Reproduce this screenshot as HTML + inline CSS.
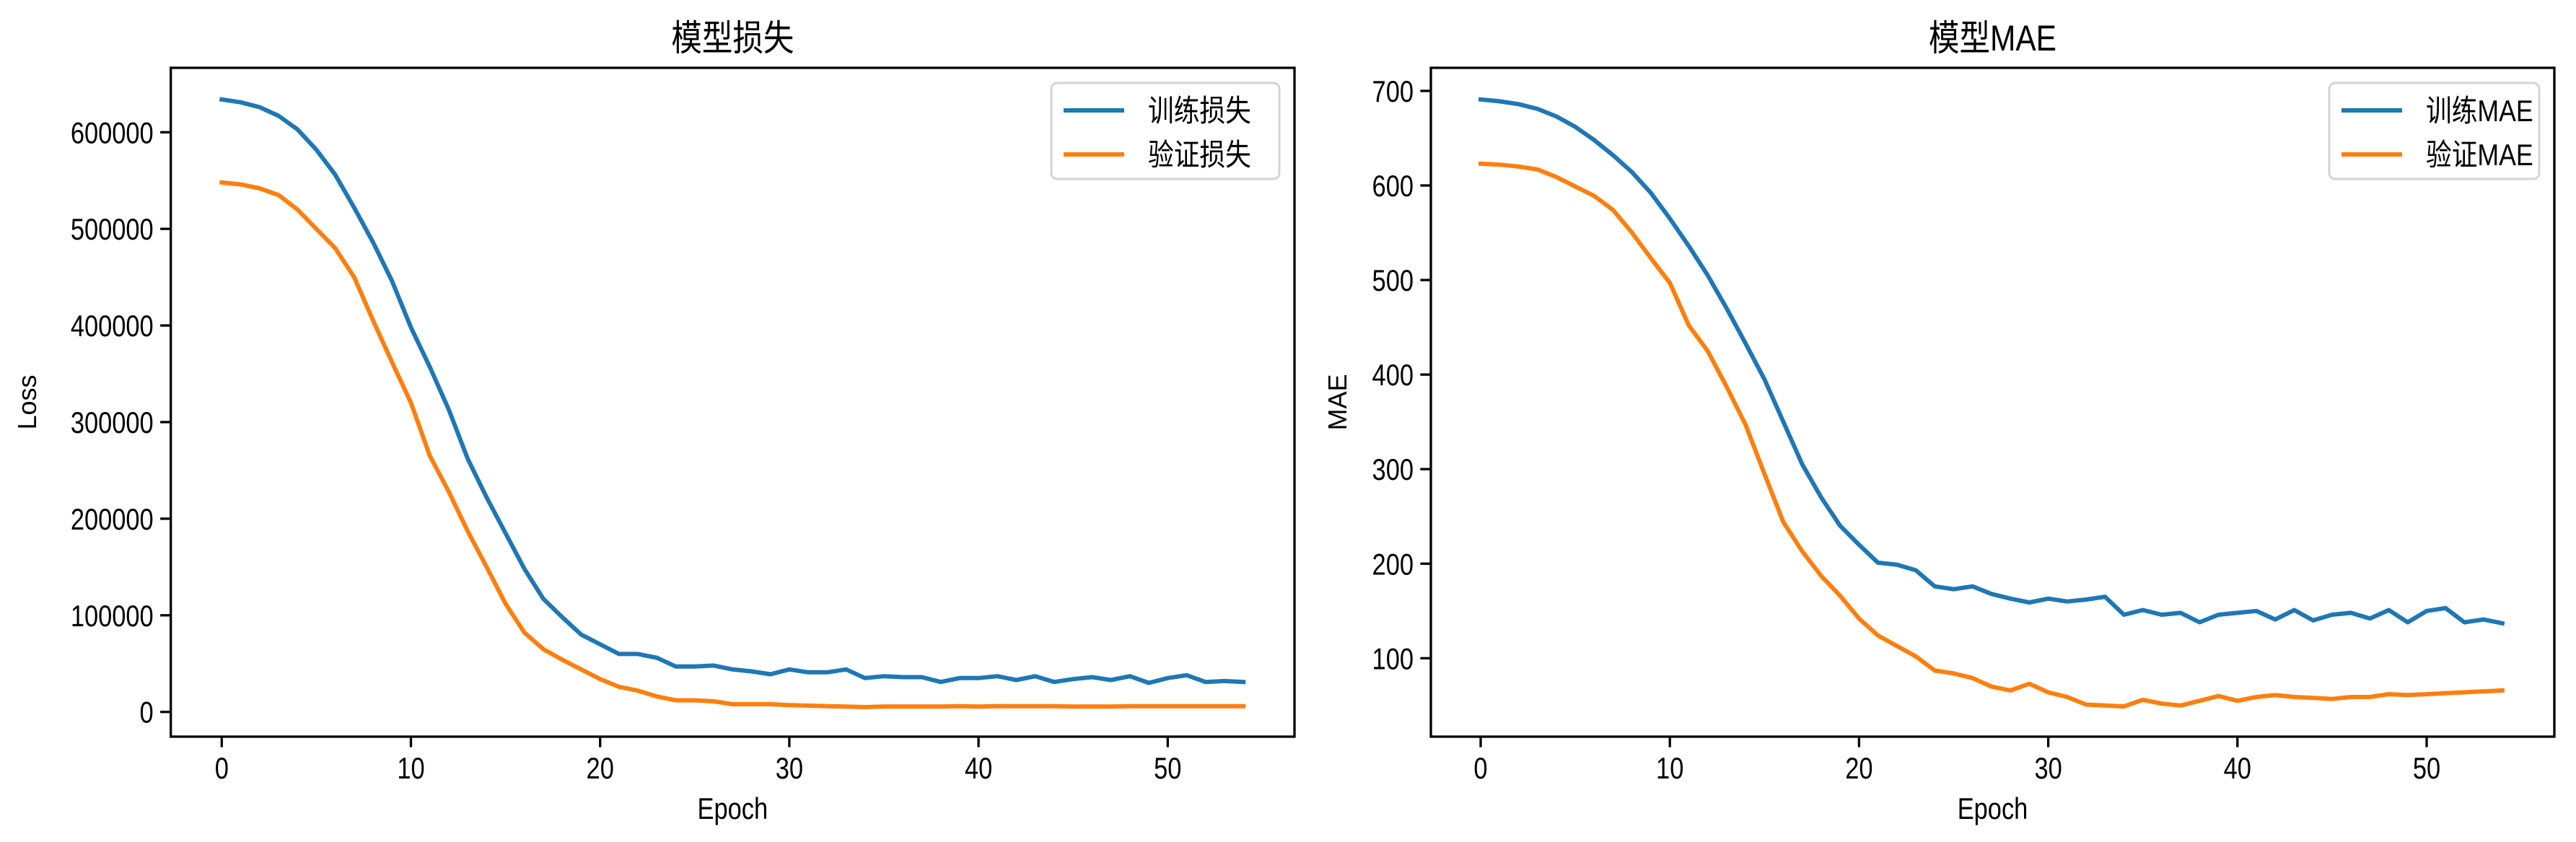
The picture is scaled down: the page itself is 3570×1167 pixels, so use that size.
<!DOCTYPE html>
<html><head><meta charset="utf-8">
<style>
html,body{margin:0;padding:0;background:#fff;}
svg{display:block;}
text{font-family:"Liberation Sans","Noto Sans CJK SC",sans-serif;fill:#000;}
.cjk{font-family:"Liberation Sans","Noto Sans CJK SC",sans-serif;}
</style></head>
<body>
<svg id="chart" xmlns="http://www.w3.org/2000/svg" width="3570" height="1167" viewBox="0 0 3570 1167"></svg>
<script>
const epochs = Array.from({length:55},(_,i)=>i);
const trainLoss = [634,631,626,617,603,582,556,522,486,446,398,357,313,262,222,185,148,117,98,80,70,60,60,56,47,47,48,44,42,39,44,41,41,44,35,37,36,36,31,35,35,37,33,37,31,34,36,33,37,30,35,38,31,32,31].map(v=>v*1000);
const valLoss = [548,546,542,535,520,500,480,450,405,362,320,265,228,187,150,112,82,65,54,44,34,26,22,16,12,12,11,8,8,8,7,6.5,6,5.5,5,5.5,5.5,5.5,5.5,6,5.5,6,6,6,6,5.5,5.5,5.5,6,6,6,6,6,6,6].map(v=>v*1000);
const trainMAE = [691,689,686,681,673,662,648,632,614,592,565,536,505,470,433,395,350,305,270,240,220,201,199,193,176,173,176,168,163,159,163,160,162,165,146,151,146,148,138,146,148,150,141,151,140,146,148,142,151,138,150,153,138,141,137];
const valMAE = [623,622,620,617,609,599,589,574,550,523,497,452,425,387,347,295,244,213,187,166,142,124,113,102,87,84,79,70,66,73,64,59,51,50,49,56,52,50,55,60,55,59,61,59,58,57,59,59,62,61,62,63,64,65,66];
const xTicks = [0,10,20,30,40,50];
const lossTicks = [0,100000,200000,300000,400000,500000,600000];
const maeTicks = [100,200,300,400,500,600,700];

const svg = document.getElementById('chart');
const NS = 'http://www.w3.org/2000/svg';
function mk(tag, attrs, parent){
  const e = document.createElementNS(NS, tag);
  for (const k in attrs) e.setAttribute(k, attrs[k]);
  (parent||svg).appendChild(e);
  return e;
}
function txt(parent, x, y, str, size, anchor, sx, cls){
  const t = mk('text',{x:0,y:0,'text-anchor':anchor,'font-size':size,transform:`translate(${x},${y}) scale(${sx},1)`},parent);
  if (cls) t.setAttribute('class', cls);
  t.textContent = str;
  return t;
}

function panel(cfg){
  const g = mk('g',{});
  
  
  const L=cfg.left, R=cfg.right, T=94, B=1021;
  const xPer = 26.22;
  const x = v => cfg.x0 + v*xPer;
  const y = v => cfg.y0 - (v - cfg.yRef)*cfg.yPer;
  const frame = mk('rect',{x:L,y:T,width:R-L,height:B-T,fill:'none',stroke:'#000','stroke-width':3.3},g);
  
  
  xTicks.forEach(t=>{
    const ln = mk('line',{x1:x(t),x2:x(t),y1:B,y2:B+14.6,stroke:'#000','stroke-width':3.3},g);
    
    
    const tx = txt(g, x(t), B+58, String(t), 42, 'middle', 0.82);
    
    
  });
  cfg.yTicks.forEach(t=>{
    const ln = mk('line',{x1:L-14.6,x2:L,y1:y(t),y2:y(t),stroke:'#000','stroke-width':3.3},g);
    
    
    const tx = txt(g, L-24, y(t)+15, String(t), 42, 'end', 0.82);
    
    
  });
  const colors=['#1f77b4','#ff7f0e'];
  cfg.series.forEach((s,i)=>{
    const d = s.map((v,k)=>(k?'L':'M')+x(epochs[k]).toFixed(1)+','+y(v).toFixed(1)).join(' ');
    const p = mk('path',{d:d,fill:'none',stroke:colors[i],'stroke-width':6,'stroke-linejoin':'round','stroke-linecap':'square'},g);
    
    
  });
  const ti = txt(g, (L+R)/2, 70, cfg.title, 50, 'middle', 0.85, 'cjk');
  
  
  const xl = txt(g, (L+R)/2, 1135, 'Epoch', 42, 'middle', 0.82);
  
  
  const yl = mk('text',{x:0,y:0,'text-anchor':'middle','font-size':36,transform:`translate(${cfg.ylx},${(T+B)/2}) rotate(-90)`},g);
  yl.textContent = cfg.ylabel;
  
  
  const lg = mk('g',{},g);
  
  
  const lw = cfg.legW, lr = R-21, lx = lr-lw;
  mk('rect',{x:lx,y:115,width:lw,height:133,rx:8,fill:'#fff','fill-opacity':0.8,stroke:'#d4d4d4','stroke-width':3},lg);
  cfg.legendLabels.forEach((lab,i)=>{
    const yy = 153+i*61;
    const ln = mk('line',{x1:lx+17,x2:lx+101,y1:yy,y2:yy,stroke:colors[i],'stroke-width':6},lg);
    
    
    const tx = txt(lg, lx+134, yy+15, lab, 42, 'start', 0.85, 'cjk');
    
    
  });
}

panel({name:'loss-panel',prefix:'loss',left:236.7,right:1794,x0:307.3,y0:986.7,yRef:0,yPer:133.9/100000,
  yTicks:lossTicks,series:[trainLoss,valLoss],seriesNames:['train-loss','val-loss'],
  title:'模型损失',ylabel:'Loss',ylx:50,legW:316,legendLabels:['训练损失','验证损失']});
panel({name:'mae-panel',prefix:'mae',left:1983,right:3540,x0:2052,y0:912.3,yRef:100,yPer:131.05/100,
  yTicks:maeTicks,series:[trainMAE,valMAE],seriesNames:['train-mae','val-mae'],
  title:'模型MAE',ylabel:'MAE',ylx:1866,legW:291,legendLabels:['训练MAE','验证MAE']});
</script>
</body></html>
